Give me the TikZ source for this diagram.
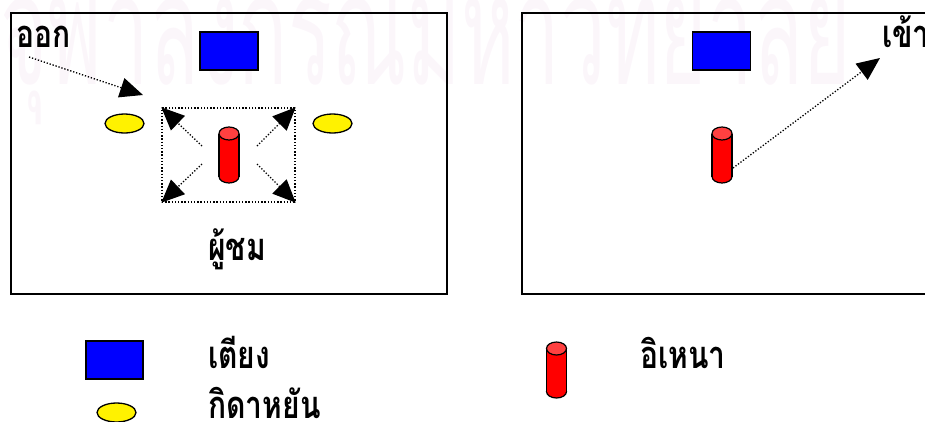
\documentclass[tikz,border=0pt]{standalone}
\usepackage{fontspec}
\newfontfamily\thaifont[Script=Thai]{Loma}
\usetikzlibrary{arrows.meta,shapes.geometric}
\definecolor{wmark}{rgb}{0.985,0.96,0.98}
\definecolor{idoltop}{rgb}{1,0.25,0.25}
\newcommand\thtx[1]{\scalebox{1}[1.27]{\thaifont\bfseries #1}}
\tikzset{
  room/.style={draw=black, line width=1.5pt},
  bed/.style={draw=black, line width=1.3pt, fill=blue, minimum width=58pt, minimum height=38pt, inner sep=0pt},
  gong/.style={ellipse, draw=black, line width=1.3pt, fill=yellow, minimum width=39pt, minimum height=19pt, inner sep=0pt},
  stagebox/.style={draw=black, line width=1.4pt, dash pattern=on 1.4pt off 1.8pt, minimum width=133pt, minimum height=94pt, inner sep=0pt},
  lbl/.style={font=\thaifont\bfseries\fontsize{30}{32}\selectfont, inner sep=0pt},
  flow/.style={line width=1.3pt, dash pattern=on 1.3pt off 1.8pt, -{Triangle[length=23pt,width=20pt]}},
  pics/idol/.style={code={
    \filldraw[fill=red, draw=black, line width=1.2pt] (0,21.5) ellipse (10pt and 6.5pt);
    \fill[red] (-10,-21.5) rectangle (10,21.5);
    \draw[line width=1.2pt] (-10,-21.5) -- (-10,21.5) (10,-21.5) -- (10,21.5);
    \filldraw[fill=idoltop, draw=black, line width=1.2pt] (0,-21.5) ellipse (10pt and 6.5pt);
  }}
}
\begin{document}
\begin{tikzpicture}[x=1pt,y=-1pt]
\useasboundingbox (0,0) rectangle (925,421);
\clip (0,0) rectangle (925,421);
% watermark
\node[anchor=base west, inner sep=0pt, text=wmark, text opacity=0.9] (wm) at (0,84)
  {\scalebox{1}[1.9]{\resizebox{850pt}{!}{\thaifont จุฬาลงกรณ์มหาวิทยาลัย}}};
% rooms
\draw[room] (11,13) rectangle (447,294);
\draw[room] (522,13) rectangle (940,294);
% left room
\node[bed] (bedL) at (229,51) {};
\node[gong] (gongL1) at (124.5,123.5) {};
\node[gong] (gongL2) at (332.5,123.5) {};
\node[stagebox] (stage) at (228.5,155) {};
\coordinate (idolL) at (229,155);
\pic at (idolL) {idol};
\coordinate (s1) at (202,146);
\coordinate (s2) at (257,146);
\coordinate (s3) at (202,164);
\coordinate (s4) at (257,164);
\draw[flow] (s1) -- (stage.north west);
\draw[flow] (s2) -- (stage.north east);
\draw[flow] (s3) -- (stage.south west);
\draw[flow] (s4) -- (stage.south east);
\node[lbl, anchor=base west] (out) at (16,47) {\thtx{ออก}};
\coordinate (outStart) at (29,57);
\coordinate (outEnd) at (143,95);
\draw[flow] (outStart) -- (outEnd);
\node[lbl, anchor=base] (aud) at (237,260) {\thtx{ผู้ชม}};
% right room
\node[bed] (bedR) at (721.5,51) {};
\coordinate (idolR) at (722,155);
\pic at (idolR) {idol};
\coordinate (inStart) at (733,168);
\coordinate (inEnd) at (880,58);
\draw[flow] (inStart) -- (inEnd);
\node[lbl, anchor=base west] (in) at (882,47) {\thtx{เข้า}};
% legend
\node[bed, minimum width=57pt] (bedLeg) at (114.5,360) {};
\node[lbl, anchor=base west] (bedTxt) at (208,368) {\thtx{เตียง}};
\node[gong] (gongLeg) at (116.5,412.5) {};
\node[lbl, anchor=base west] (gongTxt) at (208,418) {\thtx{กิดาหยัน}};
\coordinate (idolLeg) at (556.5,370);
\pic at (idolLeg) {idol};
\node[lbl, anchor=base west] (idolTxt) at (640,368) {\thtx{อิเหนา}};
\end{tikzpicture}
\end{document}
